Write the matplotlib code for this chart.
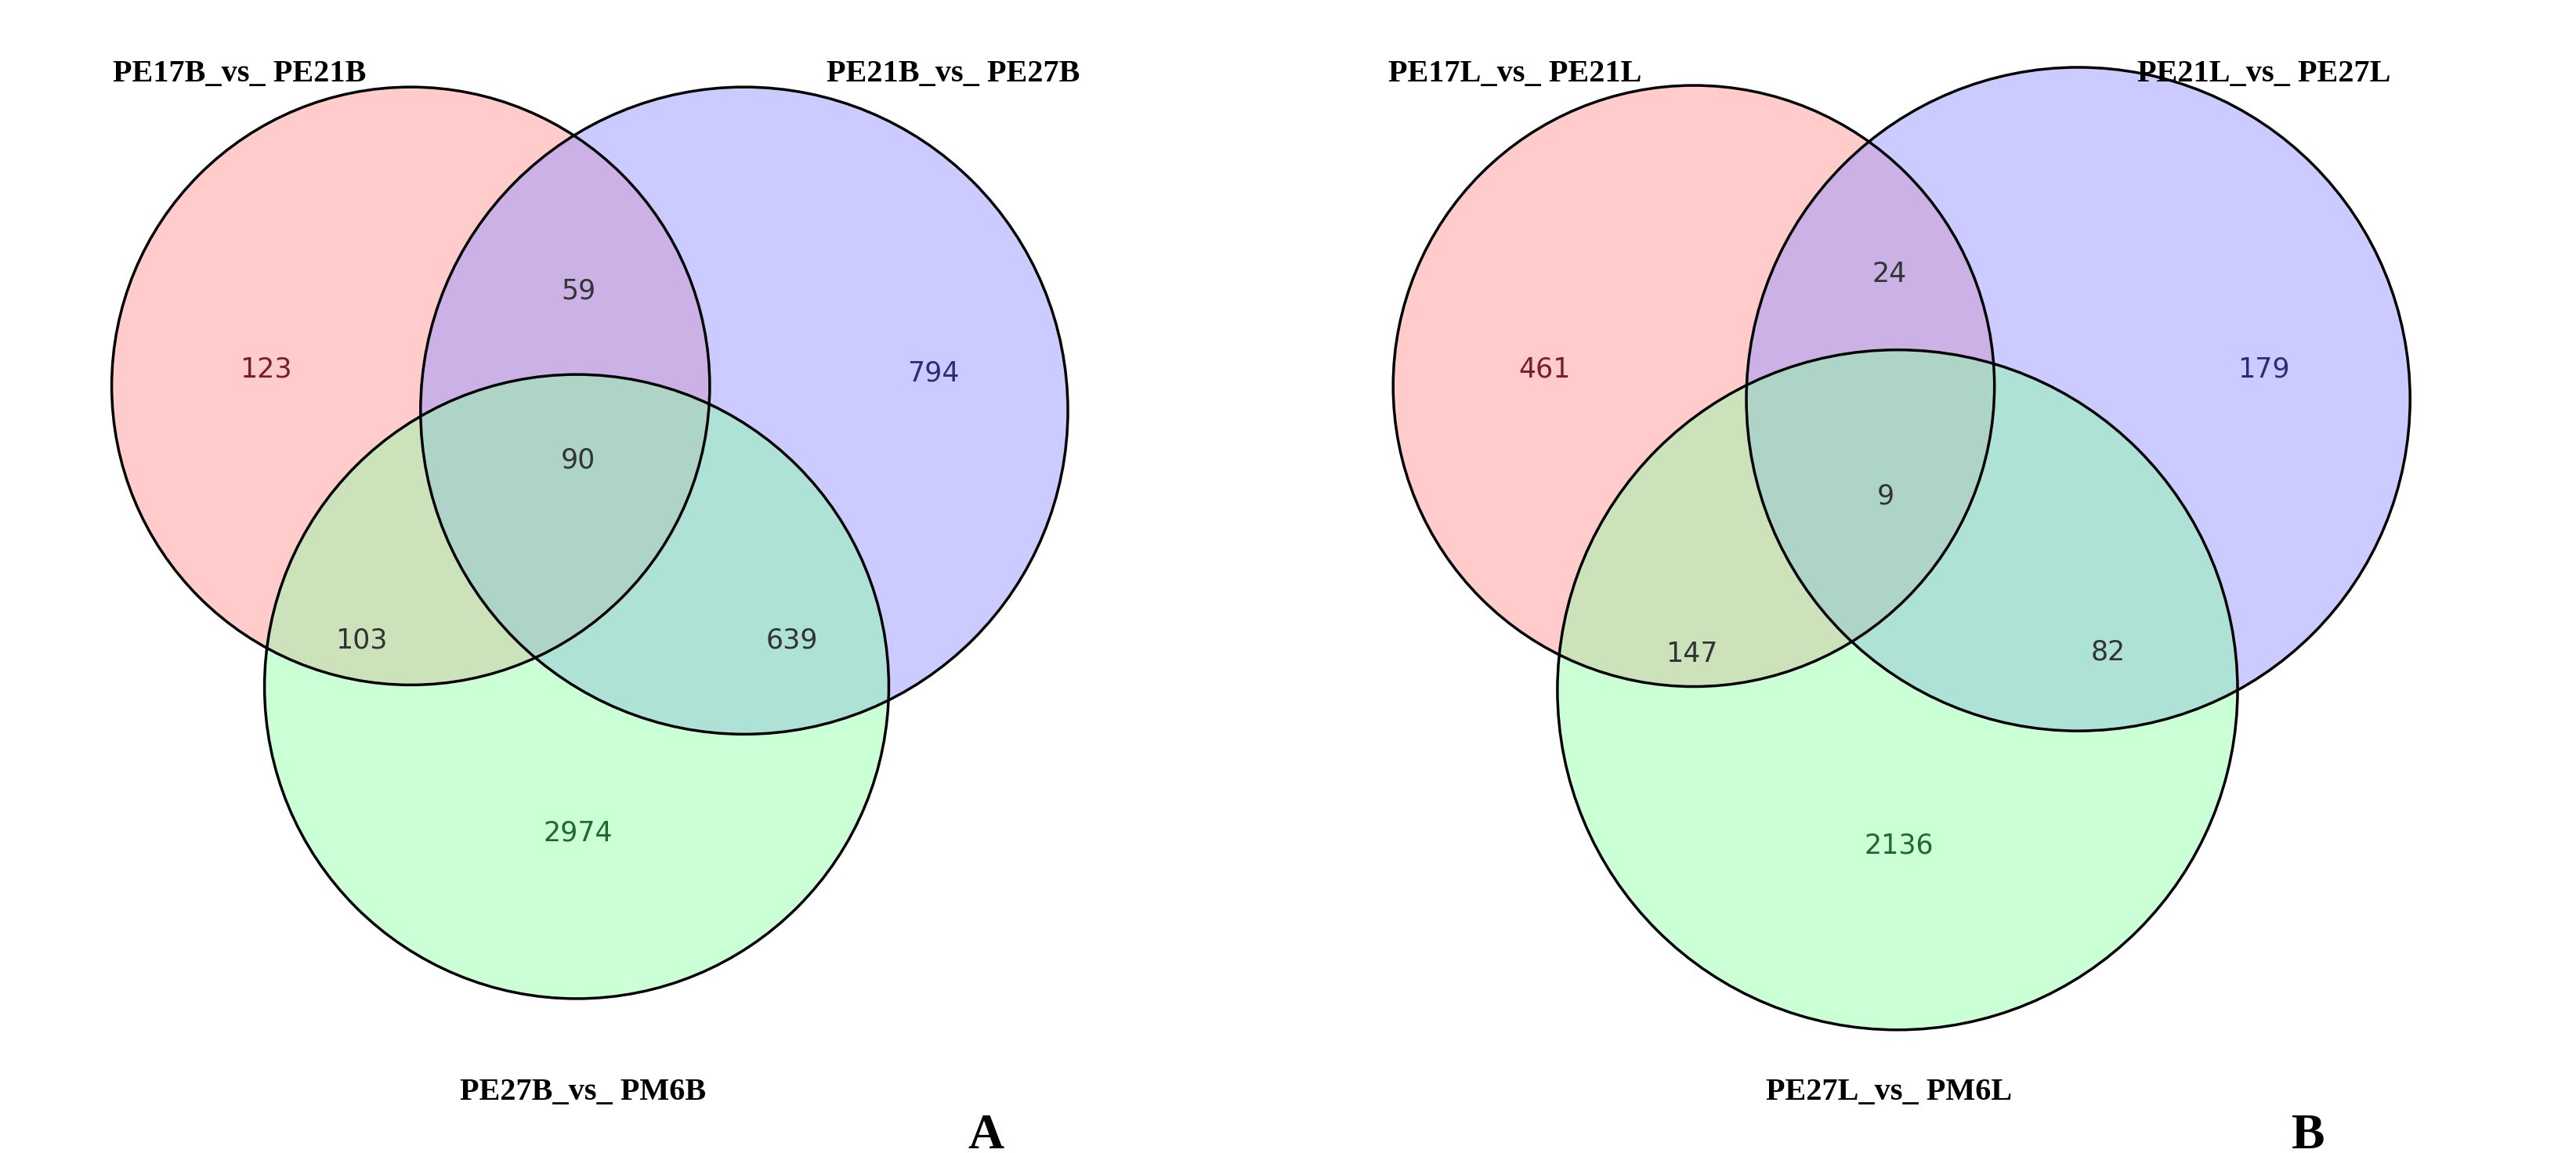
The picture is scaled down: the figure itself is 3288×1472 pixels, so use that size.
import matplotlib.pyplot as plt
from matplotlib.patches import Circle

# data
labels_a = ["PE17B_vs_ PE21B", "PE21B_vs_ PE27B", "PE27B_vs_ PM6B"]
labels_b = ["PE17L_vs_ PE21L", "PE21L_vs_ PE27L", "PE27L_vs_ PM6L"]
# order: only1, only2, only3, 1&2, 1&3, 2&3, all
counts_a = [123, 794, 2974, 59, 103, 639, 90]
counts_b = [461, 179, 2136, 24, 147, 82, 9]

S = 1644 / 1568  # layout measured on a 1568-wide view

fig = plt.figure(figsize=(32.88, 14.72), dpi=100)
ax = fig.add_axes([0, 0, 1, 1])
ax.set_xlim(0, 1644 / S)
ax.set_ylim(736 / S, 0)
ax.axis("off")

fills = [(1, 0.6, 0.6, 0.5), (0.6, 0.6, 1, 0.5), (0.55, 1, 0.65, 0.45)]
num_colors = ["#7a1c2a", "#2c2c7a", "#1c6a2c", "#333333", "#333333", "#333333", "#333333"]


def venn(circles, counts, pos, labels, label_pos, letter, letter_pos):
    for (cx, cy, r), fc in zip(circles, fills):
        ax.add_patch(Circle((cx, cy), r, facecolor=fc, edgecolor="none"))
    for cx, cy, r in circles:
        ax.add_patch(Circle((cx, cy), r, facecolor="none", edgecolor="black", lw=2.5))
    for n, (x, y), c in zip(counts, pos, num_colors):
        ax.text(x, y, str(n), ha="center", va="center", fontsize=25, color=c,
                family="DejaVu Sans")
    for t, (x, y) in zip(labels, label_pos):
        ax.text(x, y, t, ha="center", va="center", fontsize=29, fontweight="bold",
                family="Liberation Serif")
    ax.text(letter_pos[0], letter_pos[1], letter, ha="center", va="center",
            fontsize=46, fontweight="bold", family="Liberation Serif")


venn([(250, 235, 182), (453, 250, 197), (351, 418, 190)], counts_a,
     [(162, 225), (568, 227), (352, 507), (352, 177), (220, 390), (482, 390), (352, 280)],
     labels_a, [(146, 45), (580, 45), (355, 665)], "A", (600, 692))

venn([(1031, 235, 183), (1265, 243, 202), (1155, 420, 207)], counts_b,
     [(940, 225), (1378, 225), (1156, 515), (1150, 167), (1030, 398), (1283, 397), (1148, 302)],
     labels_b, [(922, 45), (1378, 45), (1150, 665)], "B", (1405, 692))

fig.savefig("out.png", dpi=100)
